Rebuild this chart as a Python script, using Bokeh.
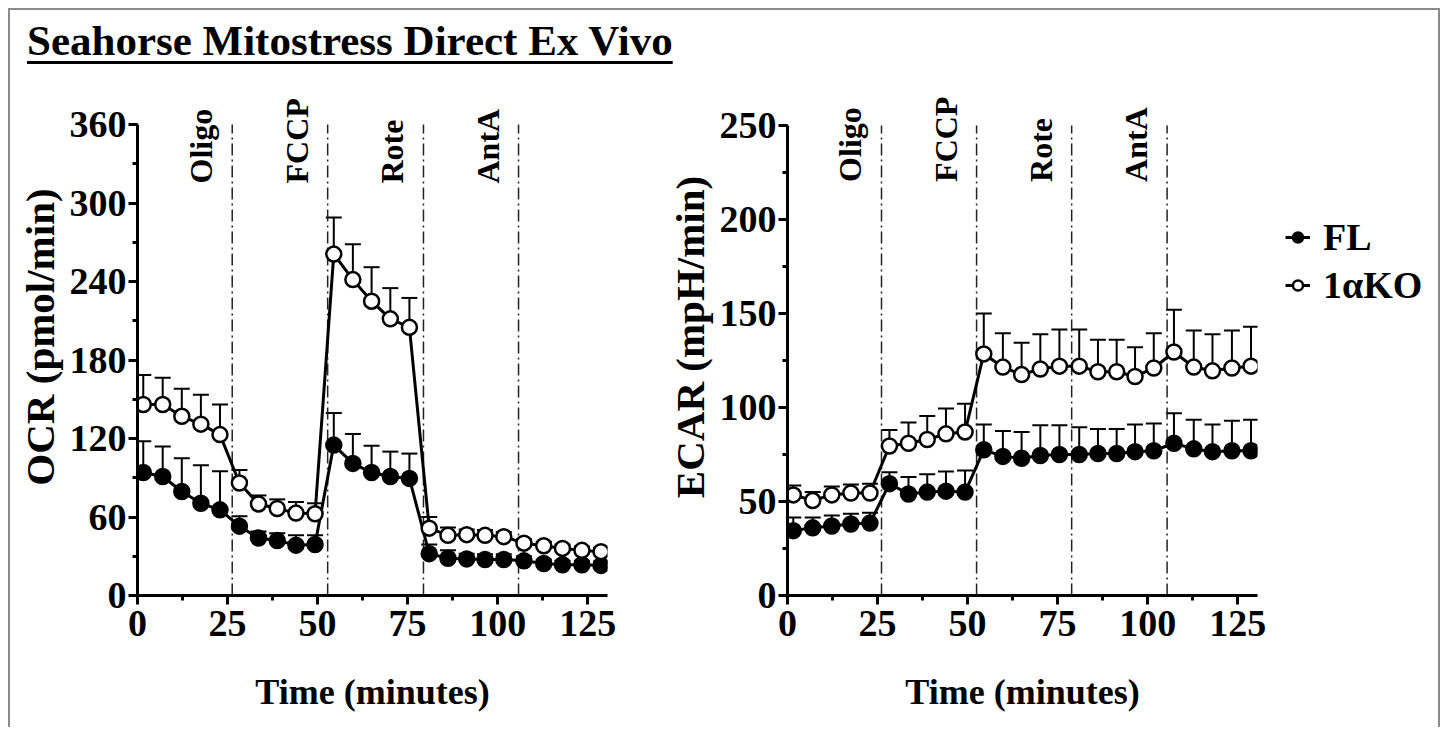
import numpy as np
from bokeh.plotting import figure
from bokeh.models import (ColumnDataSource, Whisker, TeeHead, LabelSet, Legend,
                          LegendItem, SingleIntervalTicker, Range1d, Div)
from bokeh.layouts import row, column
from bokeh.embed import file_html
from bokeh.resources import INLINE

# ---------------- data ----------------
time_min = [1.6, 7.0, 12.3, 17.6, 22.9,
            28.3, 33.6, 38.8, 44.0, 49.3,
            54.5, 59.8, 65.0, 70.2, 75.5,
            81.0, 86.2, 91.4, 96.5, 101.7,
            107.3, 112.8, 118.0, 123.4, 128.7]

ocr_fl = [94, 91, 79.5, 70.5, 65.5,
          53, 44, 42, 38.5, 39,
          115, 101, 94, 91, 89.5,
          32, 28.5, 28, 27.5, 27.5,
          26.5, 24.5, 23.5, 23.5, 23]
ocr_fl_err = [24, 23, 25.5, 29, 29.5,
              7.5, 5, 5.5, 7.5, 7,
              24.5, 22.5, 20.5, 19, 19,
              7, 6, 4, 4, 4,
              3.5, 3, 3, 3, 3]
ocr_ko = [146, 146, 137, 131, 123,
          86, 70, 66.5, 63, 62.5,
          261, 241.5, 225, 211.5, 205,
          51.5, 46, 46.5, 46, 45,
          40, 38, 36, 34.5, 33.5]
ocr_ko_err = [22.5, 20.5, 21, 22.5, 23,
              10, 6.5, 7, 8.5, 8,
              28, 27, 26, 23.5, 22.5,
              8.5, 6, 4, 4, 3.5,
              3, 3, 3, 3, 3]

ecar_fl = [34.5, 36, 37, 38, 38.5,
           59.5, 54, 55, 55.5, 55,
           77.5, 74, 73, 74.5, 75,
           75, 75.5, 75.5, 76.5, 77,
           81, 78, 76.5, 77, 77]
ecar_fl_err = [7, 5.5, 5.5, 5.5, 5.5,
               6, 9, 9.5, 10.5, 11.5,
               13.5, 13.5, 14, 16, 15.5,
               14.5, 13, 13, 14.5, 14.5,
               16, 15.5, 14.5, 16, 16.5]
ecar_ko = [53.5, 50.5, 53.5, 54.5, 54.5,
           79.5, 81, 83, 86, 87,
           128.5, 121.5, 117.5, 120.5, 122,
           122, 119, 119, 116.5, 121,
           129.5, 121.5, 119.5, 121, 122]
ecar_ko_err = [5, 4.5, 4.5, 4.5, 5,
               8.5, 11, 12.5, 13.5, 15,
               21.5, 18, 17, 18.5, 19.5,
               19.5, 17, 17, 15.5, 18.5,
               22.5, 19.5, 19.5, 20, 21]

stages = ["Oligo", "FCCP", "Rote", "AntA"]
ocr_events = [26.3, 52.8, 79.4, 105.8]
ecar_events = [26.1, 52.5, 78.9, 105.4]

ocr_axis_max, ocr_step = 360, 60
ecar_axis_max, ecar_step = 250, 50
x_axis_max, x_step = 130.5, 25

title_text = "Seahorse Mitostress Direct Ex Vivo"
x_label = "Time (minutes)"
ocr_label = "OCR (pmol/min)"
ecar_label = "ECAR (mpH/min)"
series_names = ["FL", "1\u03b1KO"]

FONT = "Liberation Serif"
FRAME_H = 517
BOTTOM = 132


def build(width, border_left, border_right, axis_max, y_step, px_per_unit, y_label,
          fl, fl_err, ko, ko_err, events, label_y):
    y_end = FRAME_H / px_per_unit
    p = figure(width=width, height=FRAME_H + BOTTOM, x_range=Range1d(0, x_axis_max),
               y_range=Range1d(0, y_end), output_backend="svg",
               toolbar_location=None, min_border_left=border_left,
               min_border_right=border_right, min_border_top=0,
               min_border_bottom=BOTTOM)
    p.outline_line_color = None
    p.grid.visible = False
    p.xaxis.ticker = SingleIntervalTicker(interval=x_step, num_minor_ticks=2)
    p.yaxis.ticker = SingleIntervalTicker(interval=y_step, num_minor_ticks=2)
    p.yaxis.bounds = (0, axis_max)
    p.xaxis.axis_label = x_label
    p.yaxis.axis_label = y_label
    for ax in (p.xaxis[0], p.yaxis[0]):
        ax.axis_line_width = 3
        ax.axis_line_color = "black"
        ax.major_tick_line_width = 3
        ax.minor_tick_line_width = 3
        ax.major_tick_line_color = "black"
        ax.minor_tick_line_color = "black"
        ax.major_tick_out = 9
        ax.major_tick_in = 0
        ax.minor_tick_out = 5
        ax.minor_tick_in = 0
        ax.major_label_text_font = FONT
        ax.major_label_text_font_style = "bold"
        ax.major_label_text_font_size = "38px"
        ax.major_label_text_color = "black"
        ax.axis_label_text_font = FONT
        ax.axis_label_text_font_style = "bold"
        ax.axis_label_text_color = "black"
    p.xaxis.major_label_standoff = 6
    p.yaxis.major_label_standoff = 2
    p.xaxis.axis_label_text_font_size = "36px"
    p.xaxis.axis_label_standoff = 33
    p.yaxis.axis_label_text_font_size = "41px"
    p.yaxis.axis_label_standoff = 4

    # injection markers (dash-dot) from the axis floor to the axis top
    p.segment(x0=events, y0=[0] * len(events), x1=events, y1=[axis_max] * len(events),
              line_dash="12 4 2 4", line_width=1.5, line_color="#222222")
    lab_src = ColumnDataSource(dict(x=events, y=[label_y] * len(events), text=stages))
    p.add_layout(LabelSet(source=lab_src, x="x", y="y", text="text", angle=np.pi / 2,
                          text_align="left", text_baseline="middle", x_offset=-31,
                          text_font=FONT, text_font_style="bold",
                          text_font_size="32px", text_color="black"))

    for vals, errs in ((fl, fl_err), (ko, ko_err)):
        upper = [v + e for v, e in zip(vals, errs)]
        src = ColumnDataSource(dict(x=time_min, y=vals, upper=upper))
        w = Whisker(source=src, base="x", upper="upper", lower="y", dimension="height",
                    upper_head=TeeHead(size=16, line_width=2, line_color="black"),
                    lower_head=None, line_width=2, line_color="black", level="underlay")
        p.add_layout(w)
        p.line("x", "y", source=src, line_width=3, line_color="black")
    for vals, fill in ((fl, "black"), (ko, "white")):
        src = ColumnDataSource(dict(x=time_min, y=vals))
        p.scatter("x", "y", source=src, marker="circle", size=15, line_width=2.5,
                  line_color="black", fill_color=fill)
    return p


p1 = build(650, 127, 53, ocr_axis_max, ocr_step, 1.308, ocr_label,
           ocr_fl, ocr_fl_err, ocr_ko, ocr_ko_err, ocr_events, 315)
p2 = build(617, 127, 20, ecar_axis_max, ecar_step, 1.88, ecar_label,
           ecar_fl, ecar_fl_err, ecar_ko, ecar_ko_err, ecar_events, 220)

# legend panel: key glyphs styled like the series (no visible data, NaN only)
p3 = figure(width=161, height=FRAME_H + BOTTOM, output_backend="svg",
            toolbar_location=None, x_axis_location=None, y_axis_location=None,
            x_range=Range1d(0, 1), y_range=Range1d(0, 1),
            min_border_left=0, min_border_right=0, min_border_top=0, min_border_bottom=0)
p3.outline_line_color = None
p3.grid.visible = False
items = []
for name, fill in zip(series_names, ("black", "white")):
    key_src = ColumnDataSource(dict(x=[float("nan")], y=[float("nan")]))
    kl = p3.line("x", "y", source=key_src, line_width=3, line_color="black")
    ks = p3.scatter("x", "y", source=key_src, marker="circle", size=15, line_width=2.5,
                    line_color="black", fill_color=fill)
    items.append(LegendItem(label=name, renderers=[kl, ks]))
legend = Legend(items=items, location=(8, 288), border_line_color=None,
                background_fill_alpha=0, label_text_font=FONT,
                label_text_font_style="bold", label_text_font_size="38px",
                label_text_color="black", glyph_width=25, glyph_height=26,
                label_standoff=13, spacing=4, padding=0, margin=0)
p3.add_layout(legend)

title = Div(text=('<div style="font-family:\'Liberation Serif\';font-weight:bold;'
                  'font-size:43px;line-height:43px;padding:9px 0 0 17px;white-space:nowrap;'
                  'color:black;"><span style="text-decoration:underline;'
                  'text-decoration-thickness:3px;text-underline-offset:6px;">'
                  + title_text + '</span></div>'), width=1428, height=68, margin=0)

root = column(title, row(p1, p2, p3), margin=(8, 0, 0, 8),
              styles={"border-top": "2px solid #8c8c8c",
                      "border-left": "2px solid #8c8c8c",
                      "border-right": "2px solid #8c8c8c"})

open("out.html", "w").write(file_html(root, INLINE))
